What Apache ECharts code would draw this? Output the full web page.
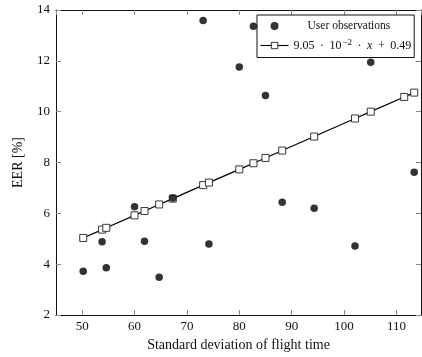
<!DOCTYPE html>
<html>
<head>
<meta charset="utf-8">
<script src="https://cdn.jsdelivr.net/npm/echarts@6/dist/echarts.min.js"></script>
<style>html,body{margin:0;padding:0;background:#fff;}#c{width:422px;height:357px;}</style>
</head>
<body>
<div id="c"></div>
<script>
// Observed data (standard deviation of flight time, EER %)
const obsX = [50.2, 53.8, 54.6, 60.0, 61.9, 64.7, 67.3, 73.1, 74.2, 80.0, 82.7, 85.0, 88.2, 94.3, 102.1, 105.1, 113.4];
const obsY = [3.72, 4.88, 3.86, 6.26, 4.90, 3.49, 6.60, 13.59, 4.79, 11.76, 13.36, 10.64, 6.44, 6.20, 4.71, 11.94, 7.62];
// Fitted line samples
const fitX = [50.2, 53.8, 54.6, 60.0, 61.9, 64.7, 67.3, 73.1, 74.2, 80.0, 82.7, 85.0, 88.2, 94.3, 102.1, 105.1, 111.5, 113.4];
const fitY = [5.03, 5.36, 5.43, 5.92, 6.09, 6.35, 6.58, 7.11, 7.21, 7.73, 7.97, 8.18, 8.47, 9.02, 9.73, 10.00, 10.58, 10.75];
const xTicks = [50, 60, 70, 80, 90, 100, 110];
const yTicks = [2, 4, 6, 8, 10, 12, 14];
const obsName = 'User observations';
const fitName = '9.05 · 10^-2 · x + 0.49';

const FONT = '"Liberation Serif", "DejaVu Serif", serif';
const chart = echarts.init(document.getElementById('c'), null, {renderer: 'canvas'});

const tickStyle = {show: true, inside: true, length: 5, lineStyle: {color: '#8a8a8a', width: 1}};
const lineStyle = {show: true, onZero: false, lineStyle: {color: '#111', width: 1}};
const xFmt = v => xTicks.indexOf(Math.round(v * 1000) / 1000) >= 0 ? String(v) : '';

function xAxisDef(pos, labels) {
  return {
    type: 'value', position: pos, min: 45.0, max: 114.7, splitNumber: 7,
    axisLine: lineStyle, axisTick: tickStyle, splitLine: {show: false},
    axisLabel: {show: labels, formatter: xFmt, color: '#111', fontFamily: FONT, fontSize: 13, margin: 5,
                showMinLabel: false, showMaxLabel: false},
    name: labels ? 'Standard deviation of flight time' : '',
    nameLocation: 'middle', nameGap: 23,
    nameTextStyle: {color: '#111', fontFamily: FONT, fontSize: 14}
  };
}
function yAxisDef(pos, labels) {
  return {
    type: 'value', position: pos, min: yTicks[0], max: yTicks[yTicks.length - 1], interval: 2,
    axisLine: lineStyle, axisTick: tickStyle, splitLine: {show: false},
    axisLabel: {show: labels, color: '#111', fontFamily: FONT, fontSize: 13, margin: 6},
    name: labels ? 'EER [%]' : '',
    nameLocation: 'middle', nameGap: 31, nameRotate: 90,
    nameTextStyle: {color: '#111', fontFamily: FONT, fontSize: 14}
  };
}

chart.setOption({
  animation: false,
  backgroundColor: '#fff',
  grid: {left: 56, right: 1, top: 10, bottom: 41},
  xAxis: [xAxisDef('bottom', true), xAxisDef('top', false)],
  yAxis: [yAxisDef('left', true), yAxisDef('right', false)],
  legend: {
    data: [obsName, fitName],
    orient: 'vertical', left: 257, top: 15,
    backgroundColor: '#fff', borderColor: '#111', borderWidth: 1, borderRadius: 0,
    padding: [5, 3, 6, 3], itemGap: 6, itemWidth: 28, itemHeight: 8,
    lineStyle: {width: 1.1, color: '#000'},
    itemStyle: {borderWidth: 0.9},
    textStyle: {
      color: '#111', fontFamily: FONT, fontSize: 11.5,
      rich: {
        p: {fontFamily: FONT, fontSize: 11.5, color: '#111', padding: [0, 0, 0, 14]},
        a: {fontFamily: FONT, fontSize: 12, color: '#111'},
        o: {fontFamily: FONT, fontSize: 12, color: '#111', padding: [0, 5.5, 0, 5.5]},
        i: {fontFamily: FONT, fontSize: 12, color: '#111', fontStyle: 'italic'},
        s: {fontFamily: FONT, fontSize: 9, color: '#111', padding: [0, 0, 6, 1]}
      }
    },
    formatter: function (name) {
      if (name === obsName) return '{p|' + name + '}';
      return '{a|9.05}{o|·}{a|10}{s|−2}{o|·}{i|x}{o|+}{a|0.49}';
    }
  },
  series: [
    {
      name: obsName, type: 'scatter', z: 3,
      symbol: 'circle', symbolSize: 7.5,
      itemStyle: {color: '#000'},
      data: obsX.map((x, i) => [x, obsY[i]])
    },
    {
      name: fitName, type: 'line', z: 2,
      symbol: 'rect', symbolSize: 7, showAllSymbol: true,
      lineStyle: {color: '#000', width: 1.2},
      itemStyle: {color: '#fff', borderColor: '#222', borderWidth: 0.9},
      data: fitX.map((x, i) => [x, fitY[i]])
    }
  ]
});
</script>
</body>
</html>
